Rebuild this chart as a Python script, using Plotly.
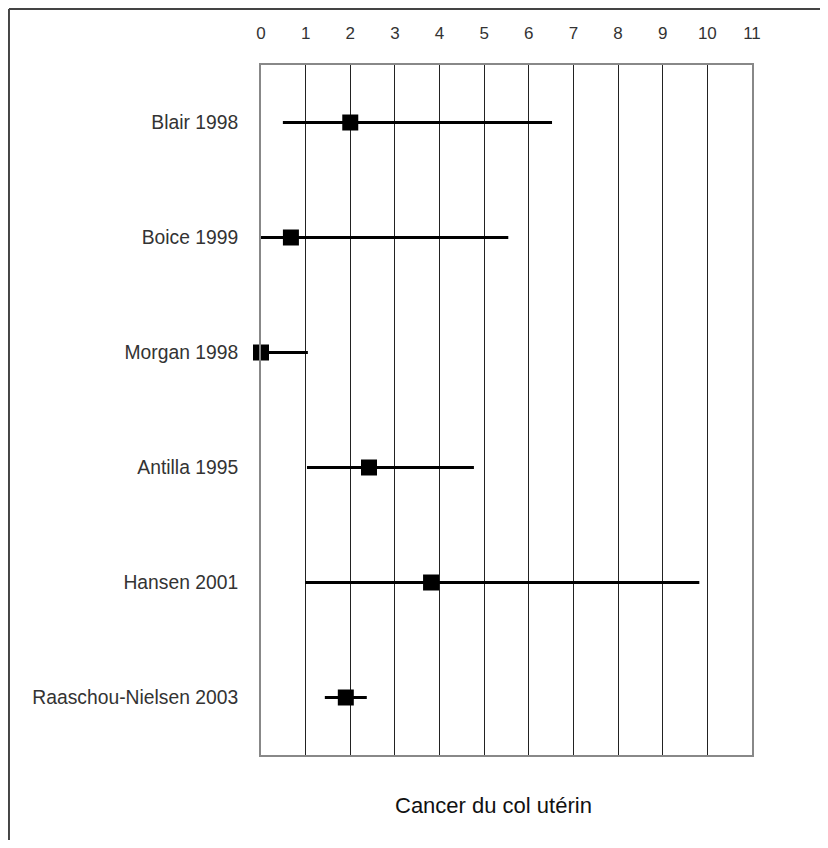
import plotly.graph_objects as go

studies = ["Blair 1998", "Boice 1999", "Morgan 1998", "Antilla 1995", "Hansen 2001", "Raaschou-Nielsen 2003"]
estimate = [2.0, 0.67, 0.0, 2.42, 3.81, 1.9]
ci_low = [0.49, 0.0, 0.0, 1.03, 0.99, 1.43]
ci_high = [6.52, 5.54, 1.05, 4.77, 9.82, 2.37]
x_ticks = list(range(0, 12))
title_text = "Cancer du col utérin"

err_plus = [h - e for h, e in zip(ci_high, estimate)]
err_minus = [e - l for e, l in zip(estimate, ci_low)]

fig = go.Figure()
fig.add_trace(go.Scatter(
    x=estimate, y=studies, mode="markers",
    marker=dict(symbol="square", size=16, color="black"),
    error_x=dict(type="data", array=err_plus, arrayminus=err_minus,
                 symmetric=False, width=0, thickness=3, color="black"),
    cliponaxis=False, showlegend=False,
))

fig.update_layout(
    width=812, height=832,
    margin=dict(l=253, r=68, t=57, b=85),
    paper_bgcolor="white", plot_bgcolor="white",
    font=dict(family="Liberation Sans, Arial, sans-serif", color="#222"),
    xaxis=dict(
        range=[0, 11], side="top", tickvals=x_ticks,
        showgrid=True, gridcolor="#222", gridwidth=1,
        showline=True, linecolor="#888", linewidth=2, mirror=True,
        ticks="", ticklabelstandoff=17, zeroline=False,
        tickfont=dict(size=17, color="#333"),
    ),
    yaxis=dict(
        categoryorder="array", categoryarray=studies,
        range=[5.5, -0.5], showgrid=False, zeroline=False,
        showline=True, linecolor="#888", linewidth=2, mirror=True,
        ticks="", ticklabelstandoff=17,
        tickfont=dict(size=19.3, color="#333"),
    ),
    annotations=[dict(
        text=title_text, xref="paper", yref="paper",
        x=0.4745, y=-0.0725, showarrow=False,
        font=dict(size=22, color="#111"), xanchor="center", yanchor="middle",
    )],
    shapes=[
        dict(type="line", xref="paper", yref="paper", x0=-0.5133, x1=1.2, y0=1.0812, y1=1.0812,
             line=dict(color="#444", width=2)),
        dict(type="line", xref="paper", yref="paper", x0=-0.5133, x1=-0.5133, y0=1.0812, y1=-0.2,
             line=dict(color="#444", width=2)),
    ],
)

fig.write_html("out.html")
